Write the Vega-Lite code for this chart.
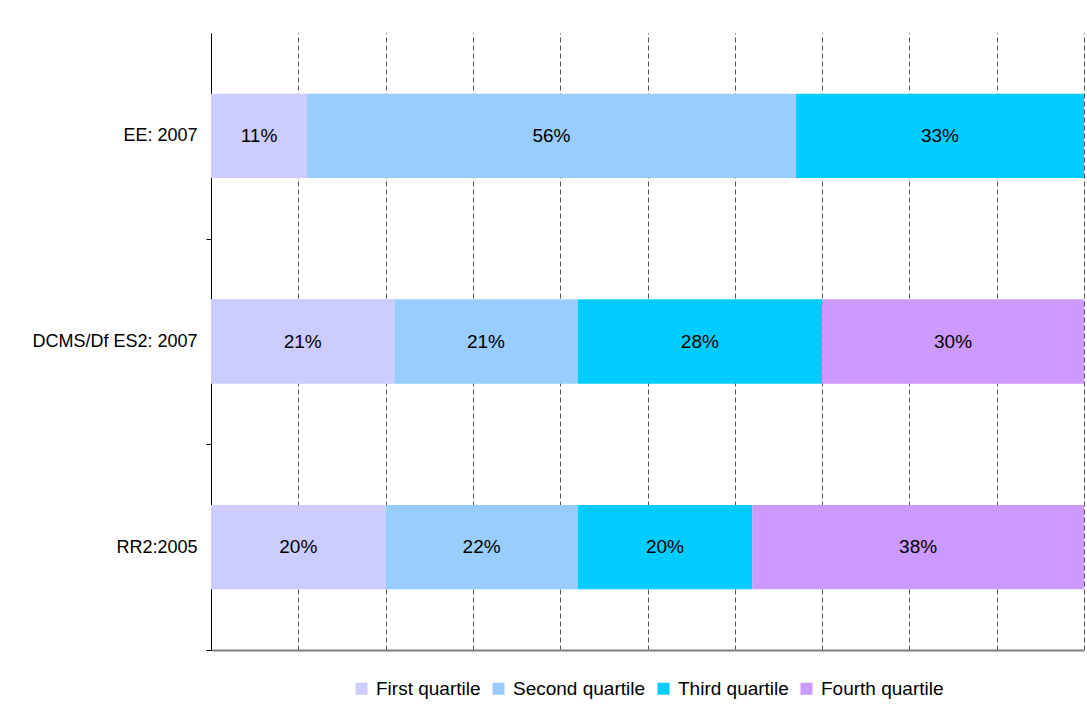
{
  "$schema": "https://vega.github.io/schema/vega-lite/v6.json",
  "autosize": "none",
  "width": 873,
  "height": 617,
  "padding": {"left": 211, "top": 33, "right": 3, "bottom": 54},
  "background": "white",
  "config": {
    "font": "Liberation Sans",
    "view": {"stroke": null},
    "legend": {"layout": {"bottom": {"anchor": "middle"}}}
  },
  "data": {
    "values": [
      {"survey": "EE: 2007", "quartile": "First quartile", "q": 1, "share": 0.11},
      {"survey": "EE: 2007", "quartile": "Second quartile", "q": 2, "share": 0.56},
      {"survey": "EE: 2007", "quartile": "Third quartile", "q": 3, "share": 0.33},
      {"survey": "DCMS/Df ES2: 2007", "quartile": "First quartile", "q": 1, "share": 0.21},
      {"survey": "DCMS/Df ES2: 2007", "quartile": "Second quartile", "q": 2, "share": 0.21},
      {"survey": "DCMS/Df ES2: 2007", "quartile": "Third quartile", "q": 3, "share": 0.28},
      {"survey": "DCMS/Df ES2: 2007", "quartile": "Fourth quartile", "q": 4, "share": 0.30},
      {"survey": "RR2:2005", "quartile": "First quartile", "q": 1, "share": 0.20},
      {"survey": "RR2:2005", "quartile": "Second quartile", "q": 2, "share": 0.22},
      {"survey": "RR2:2005", "quartile": "Third quartile", "q": 3, "share": 0.20},
      {"survey": "RR2:2005", "quartile": "Fourth quartile", "q": 4, "share": 0.38}
    ]
  },
  "transform": [
    {"stack": "share", "groupby": ["survey"], "sort": [{"field": "q", "order": "ascending"}], "as": ["x0", "x1"]},
    {"calculate": "(datum.x0 + datum.x1) / 2", "as": "xmid"}
  ],
  "encoding": {
    "y": {
      "field": "survey",
      "type": "nominal",
      "sort": ["EE: 2007", "DCMS/Df ES2: 2007", "RR2:2005"],
      "scale": {"paddingInner": 0.59, "paddingOuter": 0.295},
      "axis": {
        "title": null,
        "domainColor": "black",
        "domainWidth": 1,
        "tickColor": "black",
        "tickSize": 5,
        "tickOffset": 102.83,
        "labelOffset": -102.83,
        "labelFontSize": 18,
        "labelColor": "black",
        "labelPadding": 9,
        "grid": false
      }
    }
  },
  "layer": [
    {
      "mark": {"type": "bar"},
      "encoding": {
        "x": {
          "field": "x0",
          "type": "quantitative",
          "scale": {"domain": [0, 1], "nice": false},
          "axis": {
            "title": null,
            "values": [0, 0.1, 0.2, 0.3, 0.4, 0.5, 0.6, 0.7, 0.8, 0.9, 1],
            "labels": false,
            "ticks": false,
            "domainColor": "#808080",
            "domainWidth": 2,
            "grid": true,
            "gridColor": "#555555",
            "gridDash": [5, 3],
            "gridWidth": 1,
            "gridOpacity": 1
          }
        },
        "x2": {"field": "x1"},
        "color": {
          "field": "quartile",
          "type": "nominal",
          "scale": {
            "domain": ["First quartile", "Second quartile", "Third quartile", "Fourth quartile"],
            "range": ["#CCCCFF", "#99CCFF", "#00CCFF", "#CC99FF"]
          },
          "legend": {
            "title": null,
            "orient": "bottom",
            "direction": "horizontal",
            "offset": 29,
            "symbolType": "square",
            "symbolSize": 144,
            "symbolStrokeWidth": 0,
            "labelFontSize": 19,
            "labelColor": "black",
            "labelOffset": 5,
            "columnPadding": 8
          }
        }
      }
    },
    {
      "mark": {"type": "text", "fontSize": 19, "color": "black"},
      "encoding": {
        "x": {"field": "xmid", "type": "quantitative"},
        "text": {"field": "share", "type": "quantitative", "format": ".0%"}
      }
    }
  ]
}
